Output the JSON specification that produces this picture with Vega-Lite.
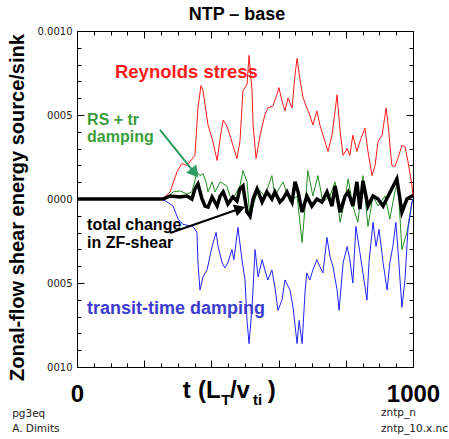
{
  "$schema": "https://vega.github.io/schema/vega-lite/v6.json",
  "width": 336,
  "height": 336,
  "autosize": {"type": "none"},
  "padding": {"left": 77, "top": 31, "right": 36, "bottom": 72},
  "background": "white",
  "title": {"text": "NTP – base", "font": "Liberation Sans", "fontSize": 18, "fontWeight": "bold", "color": "black", "anchor": "middle", "dx": -8, "offset": 2},
  "config": {"view": {"stroke": "black", "strokeWidth": 1}},
  "data": {"values": [
    {"s":"reynolds","t":0,"v":0},{"s":"reynolds","t":255,"v":0},{"s":"reynolds","t":277,"v":0.000042},{"s":"reynolds","t":298,"v":0.000163},{"s":"reynolds","t":312,"v":0.000211},{"s":"reynolds","t":327,"v":0.000199},{"s":"reynolds","t":351,"v":0.000259},{"s":"reynolds","t":360,"v":0.000542},{"s":"reynolds","t":369,"v":0.000675},{"s":"reynolds","t":375,"v":0.000645},{"s":"reynolds","t":390,"v":0.00044},{"s":"reynolds","t":402,"v":0.000361},{"s":"reynolds","t":417,"v":0.000229},{"s":"reynolds","t":426,"v":0.000361},{"s":"reynolds","t":435,"v":0.00047},{"s":"reynolds","t":446,"v":0.000434},{"s":"reynolds","t":455,"v":0.00038},{"s":"reynolds","t":464,"v":0.000319},{"s":"reynolds","t":476,"v":0.000241},{"s":"reynolds","t":485,"v":0.000343},{"s":"reynolds","t":494,"v":0.000645},{"s":"reynolds","t":506,"v":0.000681},{"s":"reynolds","t":512,"v":0.000855},{"s":"reynolds","t":521,"v":0.000645},{"s":"reynolds","t":524,"v":0.00044},{"s":"reynolds","t":533,"v":0.000241},{"s":"reynolds","t":545,"v":0.00038},{"s":"reynolds","t":559,"v":0.0005},{"s":"reynolds","t":568,"v":0.000542},{"s":"reynolds","t":583,"v":0.000554},{"s":"reynolds","t":595,"v":0.00062},{"s":"reynolds","t":601,"v":0.000663},{"s":"reynolds","t":610,"v":0.000584},{"s":"reynolds","t":619,"v":0.000524},{"s":"reynolds","t":628,"v":0.000602},{"s":"reynolds","t":640,"v":0.000542},{"s":"reynolds","t":649,"v":0.000741},{"s":"reynolds","t":655,"v":0.000837},{"s":"reynolds","t":664,"v":0.000705},{"s":"reynolds","t":673,"v":0.000602},{"s":"reynolds","t":684,"v":0.000542},{"s":"reynolds","t":693,"v":0.0005},{"s":"reynolds","t":702,"v":0.00044},{"s":"reynolds","t":714,"v":0.000524},{"s":"reynolds","t":723,"v":0.00044},{"s":"reynolds","t":738,"v":0.000343},{"s":"reynolds","t":747,"v":0.000283},{"s":"reynolds","t":759,"v":0.00038},{"s":"reynolds","t":774,"v":0.00062},{"s":"reynolds","t":783,"v":0.000404},{"s":"reynolds","t":792,"v":0.000259},{"s":"reynolds","t":804,"v":0.000301},{"s":"reynolds","t":812,"v":0.000259},{"s":"reynolds","t":821,"v":0.00038},{"s":"reynolds","t":833,"v":0.000283},{"s":"reynolds","t":842,"v":0.000343},{"s":"reynolds","t":857,"v":0.000422},{"s":"reynolds","t":866,"v":0.000283},{"s":"reynolds","t":878,"v":0.000139},{"s":"reynolds","t":887,"v":0.000199},{"s":"reynolds","t":896,"v":0.000343},{"s":"reynolds","t":908,"v":0.00038},{"s":"reynolds","t":920,"v":0.000542},{"s":"reynolds","t":926,"v":0.00044},{"s":"reynolds","t":937,"v":0.000199},{"s":"reynolds","t":946,"v":0.000193},{"s":"reynolds","t":955,"v":0.000241},{"s":"reynolds","t":967,"v":0.000319},{"s":"reynolds","t":976,"v":0.000313},{"s":"reynolds","t":985,"v":0.000223},{"s":"reynolds","t":997,"v":0.000078},{"s":"reynolds","t":1000,"v":0.000018},
    {"s":"rs_tr","t":0,"v":0},{"s":"rs_tr","t":262,"v":0},{"s":"rs_tr","t":286,"v":0.000042},{"s":"rs_tr","t":307,"v":0.000048},{"s":"rs_tr","t":327,"v":0.00003},{"s":"rs_tr","t":342,"v":0.000042},{"s":"rs_tr","t":351,"v":0.000108},{"s":"rs_tr","t":357,"v":0.000163},{"s":"rs_tr","t":366,"v":0.000139},{"s":"rs_tr","t":375,"v":0.000151},{"s":"rs_tr","t":384,"v":0.000102},{"s":"rs_tr","t":390,"v":0.000042},{"s":"rs_tr","t":402,"v":0.000102},{"s":"rs_tr","t":411,"v":0.000042},{"s":"rs_tr","t":426,"v":0.000102},{"s":"rs_tr","t":446,"v":0.000078},{"s":"rs_tr","t":455,"v":0.000018},{"s":"rs_tr","t":464,"v":0},{"s":"rs_tr","t":485,"v":0.000078},{"s":"rs_tr","t":494,"v":0.000169},{"s":"rs_tr","t":506,"v":0.000102},{"s":"rs_tr","t":515,"v":-0.00012},{"s":"rs_tr","t":524,"v":-0.000042},{"s":"rs_tr","t":539,"v":0.00006},{"s":"rs_tr","t":559,"v":0.000018},{"s":"rs_tr","t":580,"v":0.000139},{"s":"rs_tr","t":589,"v":0.000018},{"s":"rs_tr","t":613,"v":0.000102},{"s":"rs_tr","t":634,"v":-0.000018},{"s":"rs_tr","t":655,"v":0.000018},{"s":"rs_tr","t":670,"v":-0.000259},{"s":"rs_tr","t":679,"v":-0.000042},{"s":"rs_tr","t":687,"v":0.000169},{"s":"rs_tr","t":702,"v":0.000018},{"s":"rs_tr","t":717,"v":0.000139},{"s":"rs_tr","t":732,"v":-0.000018},{"s":"rs_tr","t":753,"v":0.000018},{"s":"rs_tr","t":768,"v":0.000102},{"s":"rs_tr","t":783,"v":-0.000139},{"s":"rs_tr","t":798,"v":0},{"s":"rs_tr","t":807,"v":0.00012},{"s":"rs_tr","t":821,"v":-0.000042},{"s":"rs_tr","t":836,"v":-0.000139},{"s":"rs_tr","t":851,"v":0.000139},{"s":"rs_tr","t":866,"v":-0.000163},{"s":"rs_tr","t":881,"v":0.000018},{"s":"rs_tr","t":896,"v":-0.000042},{"s":"rs_tr","t":917,"v":0.000018},{"s":"rs_tr","t":931,"v":-0.00012},{"s":"rs_tr","t":946,"v":0.000042},{"s":"rs_tr","t":955,"v":0.000102},{"s":"rs_tr","t":967,"v":-0.000301},{"s":"rs_tr","t":982,"v":-0.000199},{"s":"rs_tr","t":997,"v":-0.000018},{"s":"rs_tr","t":1000,"v":0},
    {"s":"transit","t":0,"v":0},{"s":"transit","t":255,"v":0},{"s":"transit","t":286,"v":-0.000042},{"s":"transit","t":301,"v":-0.00012},{"s":"transit","t":315,"v":-0.000151},{"s":"transit","t":345,"v":-0.000163},{"s":"transit","t":357,"v":-0.000199},{"s":"transit","t":360,"v":-0.00038},{"s":"transit","t":366,"v":-0.000542},{"s":"transit","t":375,"v":-0.000464},{"s":"transit","t":387,"v":-0.000422},{"s":"transit","t":402,"v":-0.000283},{"s":"transit","t":414,"v":-0.000199},{"s":"transit","t":420,"v":-0.000283},{"s":"transit","t":432,"v":-0.00038},{"s":"transit","t":440,"v":-0.00041},{"s":"transit","t":449,"v":-0.00038},{"s":"transit","t":461,"v":-0.000301},{"s":"transit","t":467,"v":-0.000361},{"s":"transit","t":479,"v":-0.000169},{"s":"transit","t":491,"v":-0.000361},{"s":"transit","t":500,"v":-0.000482},{"s":"transit","t":506,"v":-0.000723},{"s":"transit","t":512,"v":-0.000861},{"s":"transit","t":521,"v":-0.000645},{"s":"transit","t":530,"v":-0.000301},{"s":"transit","t":539,"v":-0.000464},{"s":"transit","t":551,"v":-0.000361},{"s":"transit","t":559,"v":-0.000422},{"s":"transit","t":568,"v":-0.000482},{"s":"transit","t":580,"v":-0.000422},{"s":"transit","t":589,"v":-0.000524},{"s":"transit","t":598,"v":-0.000663},{"s":"transit","t":610,"v":-0.000602},{"s":"transit","t":619,"v":-0.000482},{"s":"transit","t":634,"v":-0.000542},{"s":"transit","t":643,"v":-0.000645},{"s":"transit","t":655,"v":-0.000861},{"s":"transit","t":661,"v":-0.000723},{"s":"transit","t":670,"v":-0.000861},{"s":"transit","t":679,"v":-0.000542},{"s":"transit","t":684,"v":-0.00044},{"s":"transit","t":693,"v":-0.000482},{"s":"transit","t":702,"v":-0.000422},{"s":"transit","t":714,"v":-0.000361},{"s":"transit","t":723,"v":-0.000404},{"s":"transit","t":732,"v":-0.00044},{"s":"transit","t":744,"v":-0.000229},{"s":"transit","t":753,"v":-0.000343},{"s":"transit","t":762,"v":-0.000404},{"s":"transit","t":774,"v":-0.000542},{"s":"transit","t":780,"v":-0.000663},{"s":"transit","t":792,"v":-0.00038},{"s":"transit","t":804,"v":-0.000283},{"s":"transit","t":812,"v":-0.000361},{"s":"transit","t":821,"v":-0.0005},{"s":"transit","t":830,"v":-0.000163},{"s":"transit","t":842,"v":-0.000319},{"s":"transit","t":851,"v":-0.00044},{"s":"transit","t":863,"v":-0.000602},{"s":"transit","t":869,"v":-0.00038},{"s":"transit","t":881,"v":-0.000139},{"s":"transit","t":890,"v":-0.000283},{"s":"transit","t":899,"v":-0.000181},{"s":"transit","t":911,"v":-0.00038},{"s":"transit","t":923,"v":-0.000542},{"s":"transit","t":931,"v":-0.00038},{"s":"transit","t":940,"v":-0.000283},{"s":"transit","t":949,"v":-0.000139},{"s":"transit","t":958,"v":-0.00038},{"s":"transit","t":967,"v":-0.000645},{"s":"transit","t":976,"v":-0.000482},{"s":"transit","t":985,"v":-0.000181},{"s":"transit","t":997,"v":-0.000018},{"s":"transit","t":1000,"v":0},
    {"s":"total","t":0,"v":0},{"s":"total","t":256,"v":0},{"s":"total","t":277,"v":0.000018},{"s":"total","t":307,"v":0.000012},{"s":"total","t":327,"v":0.000018},{"s":"total","t":342,"v":0},{"s":"total","t":351,"v":0.00006},{"s":"total","t":360,"v":0.00009},{"s":"total","t":372,"v":0},{"s":"total","t":381,"v":-0.000042},{"s":"total","t":390,"v":-0.000048},{"s":"total","t":402,"v":0.000012},{"s":"total","t":417,"v":-0.000042},{"s":"total","t":426,"v":0.000018},{"s":"total","t":435,"v":0.000042},{"s":"total","t":449,"v":-0.00003},{"s":"total","t":464,"v":0.000012},{"s":"total","t":476,"v":-0.000012},{"s":"total","t":485,"v":0.00006},{"s":"total","t":494,"v":0.000078},{"s":"total","t":506,"v":-0.000078},{"s":"total","t":515,"v":-0.000102},{"s":"total","t":524,"v":0},{"s":"total","t":536,"v":0.00006},{"s":"total","t":551,"v":-0.000018},{"s":"total","t":565,"v":0.000042},{"s":"total","t":580,"v":0},{"s":"total","t":589,"v":0.000042},{"s":"total","t":604,"v":-0.000018},{"s":"total","t":613,"v":0},{"s":"total","t":625,"v":0.000042},{"s":"total","t":640,"v":-0.000018},{"s":"total","t":649,"v":0.000102},{"s":"total","t":658,"v":0.000042},{"s":"total","t":670,"v":-0.000078},{"s":"total","t":684,"v":0.000018},{"s":"total","t":699,"v":-0.000042},{"s":"total","t":714,"v":0},{"s":"total","t":729,"v":-0.000018},{"s":"total","t":744,"v":0.000042},{"s":"total","t":759,"v":-0.000042},{"s":"total","t":768,"v":0.000078},{"s":"total","t":783,"v":-0.000078},{"s":"total","t":798,"v":0.000018},{"s":"total","t":807,"v":0.000042},{"s":"total","t":821,"v":-0.000042},{"s":"total","t":833,"v":0.000102},{"s":"total","t":842,"v":-0.00006},{"s":"total","t":851,"v":0.000108},{"s":"total","t":866,"v":-0.000042},{"s":"total","t":881,"v":0.000018},{"s":"total","t":896,"v":0},{"s":"total","t":911,"v":-0.000042},{"s":"total","t":926,"v":0.000018},{"s":"total","t":952,"v":0.00012},{"s":"total","t":967,"v":-0.000078},{"s":"total","t":982,"v":0},{"s":"total","t":997,"v":0.000018},{"s":"total","t":1000,"v":0.000018}
  ]},
  "resolve": {"axis": {"x": "independent", "y": "independent"}},
  "layer": [
    {
      "transform": [{"filter": "datum.s == 'reynolds'"}],
      "mark": {"type": "line", "color": "#ff1a1a", "strokeWidth": 1},
      "encoding": {
        "x": {"field": "t", "type": "quantitative", "scale": {"domain": [0, 1000], "nice": false},
          "axis": {"orient": "bottom", "values": [0,200,400,600,800,1000],
            "labelExpr": "datum.value == 0 || datum.value == 1000 ? datum.label : ''", "format": "d",
            "labelFont": "Liberation Sans", "labelFontSize": 24, "labelFontWeight": "bold", "labelColor": "black",
            "labelOverlap": false, "labelFlush": false, "labelPadding": 22, "tickSize": -7,
            "tickColor": "black", "domainColor": "black", "grid": false, "title": null}},
        "y": {"field": "v", "type": "quantitative", "scale": {"domain": [-0.001, 0.001], "nice": false},
          "axis": {"orient": "left", "values": [-0.001,-0.0005,0,0.0005,0.001],
            "labelExpr": "datum.value > 0.00099 ? '0.0010' : (datum.value < -0.00099 ? '0010' : (abs(abs(datum.value) - 0.0005) < 0.00001 ? '0005' : '0000'))",
            "labelFont": "DejaVu Sans", "labelFontSize": 10, "labelColor": "#222222", "labelOverlap": false, "labelFlush": false, "labelPadding": 12, "tickSize": -7,
            "tickColor": "black", "domainColor": "black", "grid": false,
            "title": "Zonal-flow shear energy source/sink", "titleFont": "Liberation Sans", "titleFontSize": 20, "titleFontWeight": "bold", "titleColor": "black",
            "titleAngle": 270, "titleX": -54, "titleY": 176, "titleAlign": "center", "titleBaseline": "alphabetic"}}
      }
    },
    {
      "transform": [{"filter": "datum.s == 'rs_tr'"}],
      "mark": {"type": "line", "color": "#1f8f1f", "strokeWidth": 1},
      "encoding": {
        "x": {"field": "t", "type": "quantitative",
          "axis": {"orient": "top", "values": [0,200,400,600,800,1000], "labels": false, "tickSize": -7,
            "tickColor": "black", "domainColor": "black", "grid": false, "title": null}},
        "y": {"field": "v", "type": "quantitative",
          "axis": {"orient": "right", "values": [-0.001,-0.0005,0,0.0005,0.001], "labels": false, "tickSize": -7,
            "tickColor": "black", "domainColor": "black", "grid": false, "title": null}}
      }
    },
    {
      "transform": [{"filter": "datum.s == 'transit'"}],
      "mark": {"type": "line", "color": "#2222ff", "strokeWidth": 1},
      "encoding": {
        "x": {"field": "t", "type": "quantitative",
          "axis": {"orient": "bottom", "values": [50,100,150,250,300,350,450,500,550,650,700,750,850,900,950], "labels": false, "tickSize": -4,
            "tickColor": "black", "domain": false, "grid": false, "title": null}},
        "y": {"field": "v", "type": "quantitative",
          "axis": {"orient": "left", "values": [-0.0009,-0.0008,-0.0007,-0.0006,-0.0004,-0.0003,-0.0002,-0.0001,0.0001,0.0002,0.0003,0.0004,0.0006,0.0007,0.0008,0.0009], "labels": false, "tickSize": -4,
            "tickColor": "black", "domain": false, "grid": false, "title": null}}
      }
    },
    {
      "transform": [{"filter": "datum.s == 'total'"}],
      "mark": {"type": "line", "color": "black", "strokeWidth": 3.5},
      "encoding": {
        "x": {"field": "t", "type": "quantitative",
          "axis": {"orient": "top", "values": [50,100,150,250,300,350,450,500,550,650,700,750,850,900,950], "labels": false, "tickSize": -4,
            "tickColor": "black", "domain": false, "grid": false, "title": null}},
        "y": {"field": "v", "type": "quantitative",
          "axis": {"orient": "right", "values": [-0.0009,-0.0008,-0.0007,-0.0006,-0.0004,-0.0003,-0.0002,-0.0001,0.0001,0.0002,0.0003,0.0004,0.0006,0.0007,0.0008,0.0009], "labels": false, "tickSize": -4,
            "tickColor": "black", "domain": false, "grid": false, "title": null}}
      }
    },
    {
      "data": {"values": [{}]},
      "mark": {"type": "rule", "color": "#2e9a62", "strokeWidth": 2},
      "encoding": {
        "x": {"datum": 247, "type": "quantitative", "axis": null},
        "y": {"datum": 0.000411, "type": "quantitative", "axis": null},
        "x2": {"datum": 347},
        "y2": {"datum": 0.000163}
      }
    },
    {
      "data": {"values": [{}]},
      "mark": {"type": "point", "shape": "triangle", "angle": 141, "size": 170, "filled": true, "opacity": 1, "color": "#2e9a62"},
      "encoding": {
        "x": {"datum": 347, "type": "quantitative", "axis": null},
        "y": {"datum": 0.000163, "type": "quantitative", "axis": null}
      }
    },
    {
      "data": {"values": [{}]},
      "mark": {"type": "rule", "color": "black", "strokeWidth": 2},
      "encoding": {
        "x": {"datum": 277, "type": "quantitative", "axis": null},
        "y": {"datum": -0.000202, "type": "quantitative", "axis": null},
        "x2": {"datum": 480},
        "y2": {"datum": -0.000061}
      }
    },
    {
      "data": {"values": [{}]},
      "mark": {"type": "point", "shape": "triangle", "angle": 71, "size": 150, "filled": true, "opacity": 1, "color": "black"},
      "encoding": {
        "x": {"datum": 480, "type": "quantitative", "axis": null},
        "y": {"datum": -0.000061, "type": "quantitative", "axis": null}
      }
    },
    {
      "data": {"values": [{}]},
      "mark": {"type": "text", "text": "Reynolds stress", "align": "left", "baseline": "alphabetic", "font": "Liberation Sans", "fontSize": 18.5, "fontWeight": "bold", "color": "#ff1a1a"},
      "encoding": {
        "x": {"datum": 113, "type": "quantitative", "axis": null},
        "y": {"datum": 0.00072, "type": "quantitative", "axis": null}
      }
    },
    {
      "data": {"values": [{}]},
      "mark": {"type": "text", "text": ["RS + tr", "damping"], "lineHeight": 17, "align": "left", "baseline": "alphabetic", "font": "Liberation Sans", "fontSize": 16, "fontWeight": "bold", "color": "#3a9e3a"},
      "encoding": {
        "x": {"datum": 30, "type": "quantitative", "axis": null},
        "y": {"datum": 0.00044, "type": "quantitative", "axis": null}
      }
    },
    {
      "data": {"values": [{}]},
      "mark": {"type": "text", "text": ["total change", "in ZF-shear"], "lineHeight": 18, "align": "left", "baseline": "alphabetic", "font": "Liberation Sans", "fontSize": 16, "fontWeight": "bold", "color": "black"},
      "encoding": {
        "x": {"datum": 30, "type": "quantitative", "axis": null},
        "y": {"datum": -0.000185, "type": "quantitative", "axis": null}
      }
    },
    {
      "data": {"values": [{}]},
      "mark": {"type": "text", "text": "transit-time damping", "align": "left", "baseline": "alphabetic", "font": "Liberation Sans", "fontSize": 18, "fontWeight": "bold", "color": "#3c3cd0"},
      "encoding": {
        "x": {"datum": 30, "type": "quantitative", "axis": null},
        "y": {"datum": -0.000685, "type": "quantitative", "axis": null}
      }
    },
    {
      "data": {"values": [{}]},
      "mark": {"type": "text", "text": "t", "align": "left", "baseline": "alphabetic", "font": "Liberation Sans", "fontSize": 24, "fontWeight": "bold", "color": "black"},
      "encoding": {
        "x": {"datum": 315, "type": "quantitative", "axis": null},
        "y": {"datum": -0.001187, "type": "quantitative", "axis": null}
      }
    },
    {
      "data": {"values": [{}]},
      "mark": {"type": "text", "text": "(L", "align": "left", "baseline": "alphabetic", "font": "Liberation Sans", "fontSize": 24, "fontWeight": "bold", "color": "black"},
      "encoding": {
        "x": {"datum": 360, "type": "quantitative", "axis": null},
        "y": {"datum": -0.001187, "type": "quantitative", "axis": null}
      }
    },
    {
      "data": {"values": [{}]},
      "mark": {"type": "text", "text": "T", "align": "left", "baseline": "alphabetic", "font": "Liberation Sans", "fontSize": 15, "fontWeight": "bold", "color": "black"},
      "encoding": {
        "x": {"datum": 429, "type": "quantitative", "axis": null},
        "y": {"datum": -0.001229, "type": "quantitative", "axis": null}
      }
    },
    {
      "data": {"values": [{}]},
      "mark": {"type": "text", "text": "/v", "align": "left", "baseline": "alphabetic", "font": "Liberation Sans", "fontSize": 24, "fontWeight": "bold", "color": "black"},
      "encoding": {
        "x": {"datum": 455, "type": "quantitative", "axis": null},
        "y": {"datum": -0.001187, "type": "quantitative", "axis": null}
      }
    },
    {
      "data": {"values": [{}]},
      "mark": {"type": "text", "text": "ti", "align": "left", "baseline": "alphabetic", "font": "Liberation Sans", "fontSize": 15, "fontWeight": "bold", "color": "black"},
      "encoding": {
        "x": {"datum": 524, "type": "quantitative", "axis": null},
        "y": {"datum": -0.001229, "type": "quantitative", "axis": null}
      }
    },
    {
      "data": {"values": [{}]},
      "mark": {"type": "text", "text": ")", "align": "left", "baseline": "alphabetic", "font": "Liberation Sans", "fontSize": 24, "fontWeight": "bold", "color": "black"},
      "encoding": {
        "x": {"datum": 568, "type": "quantitative", "axis": null},
        "y": {"datum": -0.001187, "type": "quantitative", "axis": null}
      }
    },
    {
      "data": {"values": [{}]},
      "mark": {"type": "text", "text": ["pg3eq", "A. Dimits"], "lineHeight": 15, "align": "left", "baseline": "alphabetic", "font": "DejaVu Sans", "fontSize": 10.5, "color": "#222222"},
      "encoding": {
        "x": {"datum": -193, "type": "quantitative", "axis": null},
        "y": {"datum": -0.0013, "type": "quantitative", "axis": null}
      }
    },
    {
      "data": {"values": [{}]},
      "mark": {"type": "text", "text": ["zntp_n", "zntp_10.x.nc"], "lineHeight": 16, "align": "left", "baseline": "alphabetic", "font": "DejaVu Sans", "fontSize": 10.5, "color": "#222222"},
      "encoding": {
        "x": {"datum": 905, "type": "quantitative", "axis": null},
        "y": {"datum": -0.001292, "type": "quantitative", "axis": null}
      }
    }
  ]
}
